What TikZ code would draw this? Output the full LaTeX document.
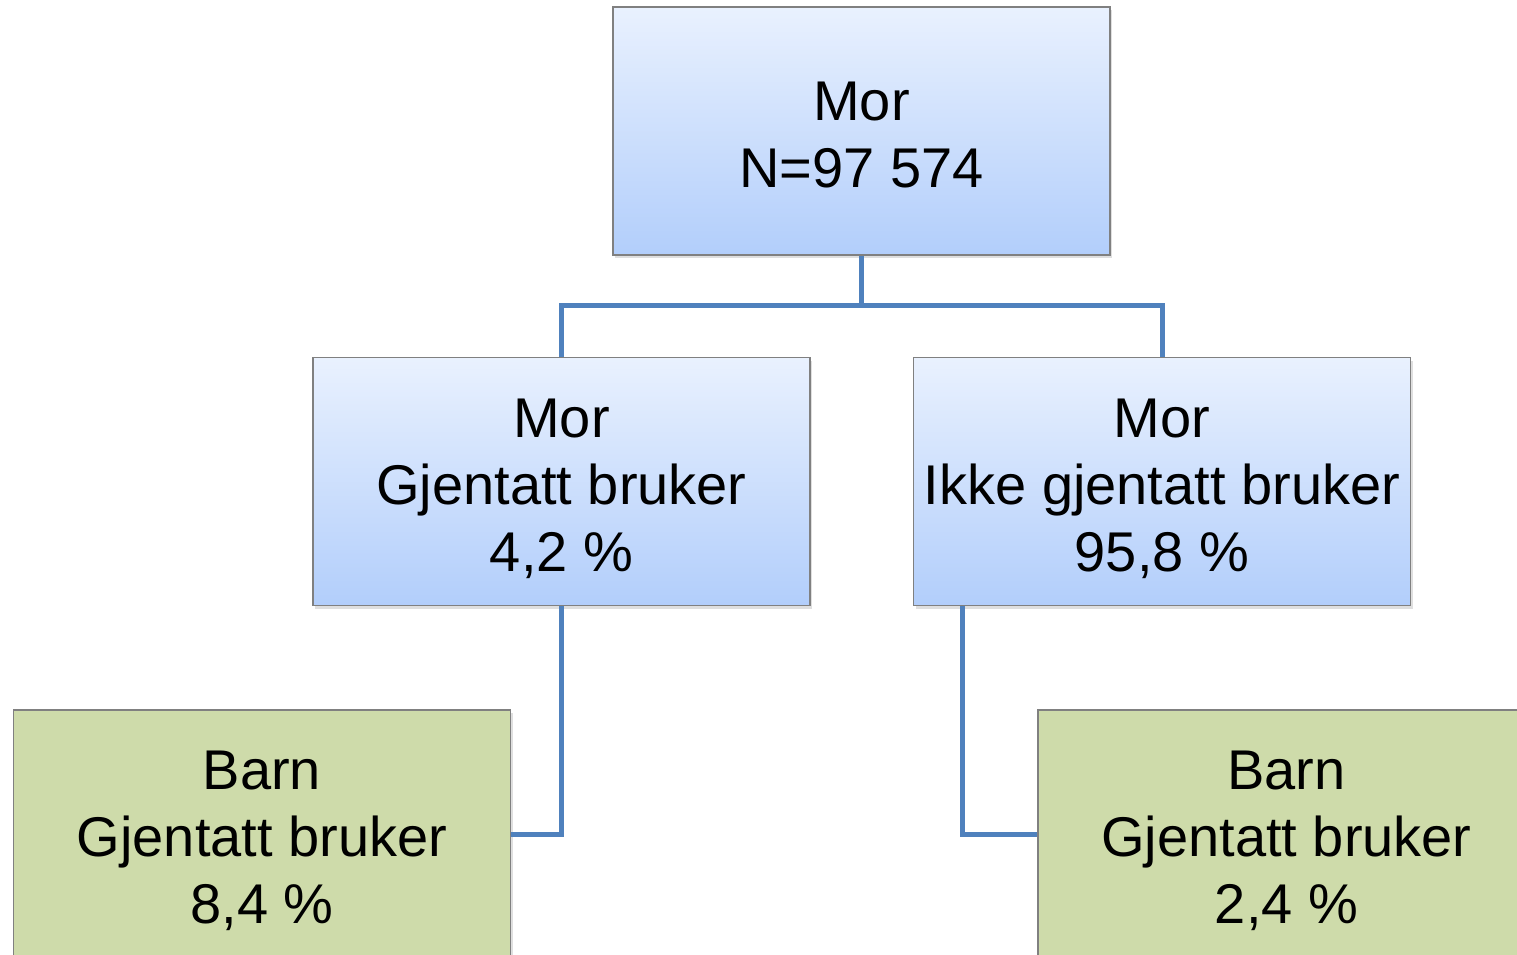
\documentclass[tikz,border=0pt]{standalone}
\usepackage{fontspec}
\setmainfont{Liberation Sans}
\usetikzlibrary{shadows}
\definecolor{linkblue}{RGB}{79,129,189}
\definecolor{boxtop}{RGB}{233,241,254}
\definecolor{boxbot}{RGB}{178,206,251}
\definecolor{boxgreen}{RGB}{206,219,170}
\definecolor{edgegray}{RGB}{128,128,128}
% centred lines with a little extra room above the first one
\newcommand\cardtext[1]{\begin{tabular}{@{}c@{}}\rule{0pt}{66pt}#1\end{tabular}}
\tikzset{
  card/.style={draw=edgegray, line width=1.2pt, minimum width=497pt, minimum height=248pt,
    inner sep=0pt, font=\fontsize{56}{67}\selectfont,
    drop shadow={shadow xshift=2pt, shadow yshift=-3pt, opacity=0.25}},
  bluecard/.style={card, top color=boxtop, bottom color=boxbot},
  greencard/.style={card, fill=boxgreen},
  link/.style={draw=linkblue, line width=5pt}
}
\begin{document}
\begin{tikzpicture}[x=1pt, y=-1pt]
  \useasboundingbox (0,0) rectangle (1517,955);
  \fill[white] (0,0) rectangle (1517,955);
  % boxes
  \node[bluecard] (top) at (861.5,131) {\cardtext{Mor\\N=97 574}};
  \node[bluecard] (ml) at (561.5,481.5) {\cardtext{Mor\\Gjentatt bruker\\4,2 \%}};
  \node[bluecard] (mr) at (1162,481.5) {\cardtext{Mor\\Ikke gjentatt bruker\\95,8 \%}};
  \node[greencard] (bl) at (262,834) {\cardtext{Barn\\Gjentatt bruker\\8,4 \%}};
  \node[greencard] (br) at (1286.5,834) {\cardtext{Barn\\Gjentatt bruker\\2,4 \%}};
  % connectors
  \coordinate (bar) at (861.5,305);
  \draw[link] (top.south) -- (top.south |- bar) -| (ml.north);
  \draw[link] (top.south |- bar) -| (mr.north);
  \draw[link] (ml.south) |- (bl.east);
  \draw[link] ([xshift=50pt]mr.south west) |- (br.west);
\end{tikzpicture}
\end{document}
